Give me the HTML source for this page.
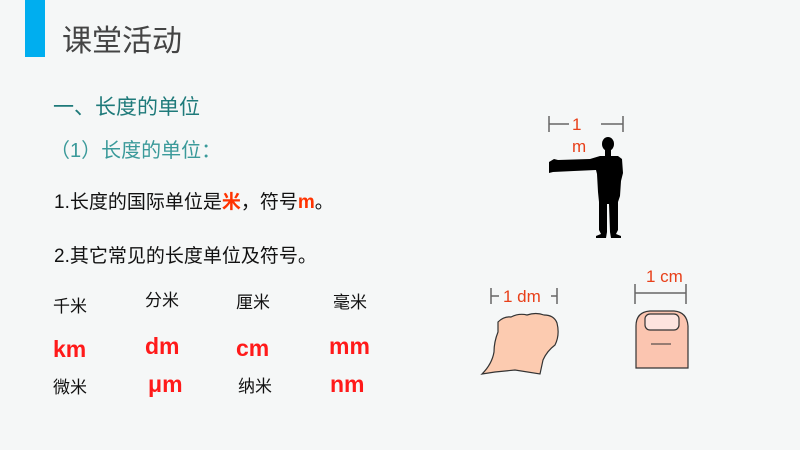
<!DOCTYPE html>
<html><head><meta charset="utf-8"><style>
body{margin:0;width:800px;height:450px;background:#f5f7f7;position:relative;overflow:hidden;font-family:"Liberation Sans","Noto Sans CJK SC",sans-serif}
.t{position:absolute;white-space:nowrap;line-height:1}
.r{color:#ff1a1a;font-weight:bold;font-size:23px}
.k{font-size:17px;color:#111}
</style></head><body>
<div style="position:absolute;left:25px;top:0;width:20px;height:57px;background:#00aeef"></div>
<div class="t" style="left:62px;top:27px;font-size:30px;color:#444">课堂活动</div>
<div class="t" style="left:53px;top:97px;font-size:21px;color:#1e7a7a">一、长度的单位</div>
<div class="t" style="left:50px;top:141px;font-size:20px;color:#3a9a9a">（1）长度的单位：</div>
<div class="t" style="left:54px;top:193px;font-size:19px;color:#111">1.长度的国际单位是<b style="color:#ff3300">米</b>，符号<b style="color:#ff3300">m</b>。</div>
<div class="t" style="left:54px;top:247px;font-size:19px;color:#111">2.其它常见的长度单位及符号。</div>
<div class="t k" style="left:53px;top:298px">千米</div>
<div class="t k" style="left:145px;top:292px">分米</div>
<div class="t k" style="left:236px;top:294px">厘米</div>
<div class="t k" style="left:333px;top:294px">毫米</div>
<div class="t r" style="left:53px;top:338px">km</div>
<div class="t r" style="left:145px;top:335px">dm</div>
<div class="t r" style="left:236px;top:337px">cm</div>
<div class="t r" style="left:329px;top:335px">mm</div>
<div class="t k" style="left:53px;top:379px">微米</div>
<div class="t r" style="left:148px;top:373px">μm</div>
<div class="t k" style="left:238px;top:378px">纳米</div>
<div class="t r" style="left:330px;top:373px">nm</div>
<svg width="800" height="450" style="position:absolute;left:0;top:0" font-family="Liberation Sans,sans-serif">
<g stroke="#666" stroke-width="1.5" fill="none">
<path d="M549 116v16M549 124h20M601 124h22M623 116v16"/>
<path d="M491 288v16M491 296h8M551 296h6M557 288v16"/>
<path d="M635 284v20M635 293h51M686 284v20"/>
</g>
<g fill="#e8401a" font-size="17">
<text x="572" y="130">1</text><text x="572" y="152">m</text>
<text x="503" y="302">1 dm</text>
<text x="646" y="282">1 cm</text>
</g>
<g fill="#000">
<ellipse cx="608" cy="144" rx="6" ry="7"/>
<rect x="605" y="149" width="6" height="8"/>
<path d="M549 162l5-3 4 1 32-1 10-3 18 0 4 3 1 14-2 8-1 15-2 6 0 28-2 4 5 2v2h-10l-1-6-1-28h-2l0 28-1 6h-10v-2l5-2-2-4 0-28-1-10-1-18-1-4-22 1-21 1-4 1z"/>
</g>
<path d="M498 322q6-6 13-5 8-4 16-2 9-3 17 0 10 0 13 8 3 12-2 22-8 6-12 15l-3 14-25-4-20 2-13 2q10-10 12-22 0-10 4-20z" fill="#fccbb0" stroke="#333" stroke-width="1.2"/>
<path d="M636 368v-42q0-14 14-15h24q13 1 14 15v42z" fill="#fbc5b0" stroke="#333" stroke-width="1.2"/>
<rect x="645" y="314" width="34" height="16" rx="5" fill="#fde4df" stroke="#333" stroke-width="1.2"/>
<path d="M651 344h20" stroke="#333"/>
</svg>
</body></html>
